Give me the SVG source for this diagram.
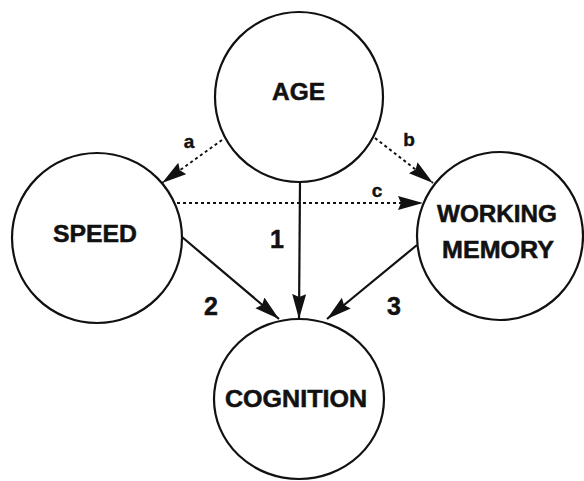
<svg xmlns="http://www.w3.org/2000/svg" width="584" height="481" viewBox="0 0 584 481">
<defs>
<style>
.node{fill:#fff;stroke:#111;stroke-width:2.2}
.lbl{font-family:"Liberation Sans",Arial,sans-serif;font-weight:bold;font-size:23px;fill:#111;stroke:#111;stroke-width:0.5;text-anchor:middle}
.num{font-family:"Liberation Sans",Arial,sans-serif;font-weight:bold;font-size:25px;fill:#111;stroke:#111;stroke-width:0.5;text-anchor:middle}
.let{font-family:"Liberation Sans",Arial,sans-serif;font-weight:bold;font-size:19px;fill:#111;stroke:#111;stroke-width:0.4;text-anchor:middle}
.solid{stroke:#111;stroke-width:2.2;fill:none;marker-end:url(#ah)}
.dash{stroke:#111;stroke-width:2;fill:none;stroke-dasharray:3 3;marker-end:url(#ah)}
</style>
<marker id="ah" markerUnits="userSpaceOnUse" markerWidth="26" markerHeight="16" refX="25" refY="7" orient="auto">
<path d="M0,0 L25,7 L0,14 L3,7 Z" fill="#111"/>
</marker>
</defs>
<g id="connectors">
<line class="dash" x1="222" y1="140" x2="162" y2="183"/>
<line class="dash" x1="375" y1="138" x2="433" y2="183"/>
<line class="dash" x1="177" y1="203" x2="423" y2="203"/>
<line class="solid" x1="300" y1="182" x2="299" y2="319"/>
<line class="solid" x1="182" y1="237" x2="279" y2="319"/>
<line class="solid" x1="417" y1="245" x2="327" y2="319"/>
<text class="let" x="189" y="148">a</text>
<text class="let" x="409" y="146">b</text>
<text class="let" x="377" y="197">c</text>
<text class="num" x="277" y="248">1</text>
<text class="num" x="211" y="315">2</text>
<text class="num" x="394" y="315">3</text>
</g>
<g id="age">
<ellipse class="node" cx="299" cy="97" rx="84" ry="85"/>
<text class="lbl" x="298.5" y="100" textLength="53" lengthAdjust="spacingAndGlyphs">AGE</text>
</g>
<g id="speed">
<ellipse class="node" cx="97" cy="238" rx="85" ry="85"/>
<text class="lbl" x="95" y="242" textLength="84" lengthAdjust="spacingAndGlyphs">SPEED</text>
</g>
<g id="working-memory">
<ellipse class="node" cx="500" cy="236" rx="83" ry="84"/>
<text class="lbl" x="497" y="222" textLength="120" lengthAdjust="spacingAndGlyphs">WORKING</text>
<text class="lbl" x="498" y="258" textLength="112" lengthAdjust="spacingAndGlyphs">MEMORY</text>
</g>
<g id="cognition">
<ellipse class="node" cx="299" cy="399" rx="85" ry="80"/>
<text class="lbl" x="296" y="407" textLength="142" lengthAdjust="spacingAndGlyphs">COGNITION</text>
</g>
</svg>
